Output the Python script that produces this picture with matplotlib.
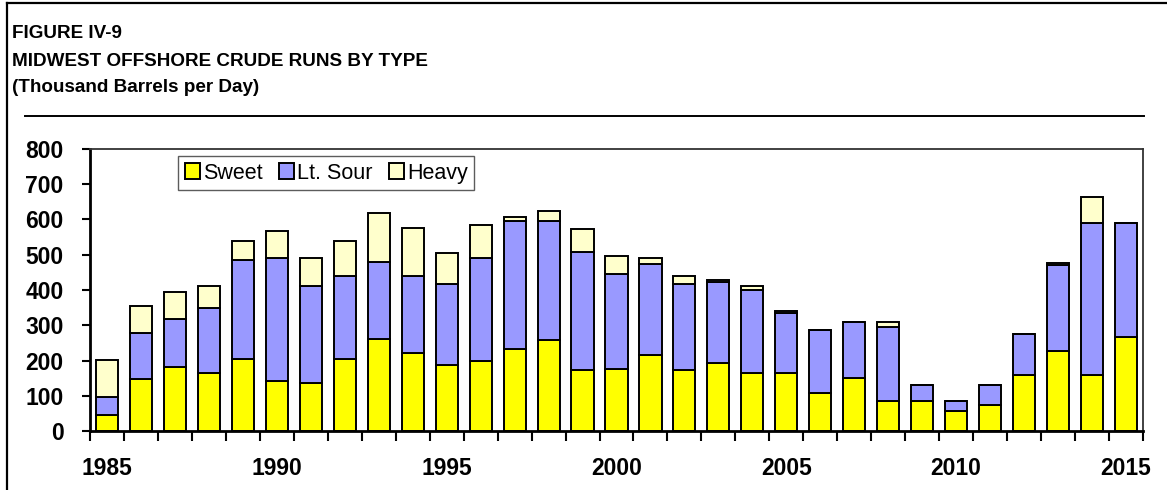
"""
Midwest offshore crude runs by type, stacked bars
"""

import matplotlib

matplotlib.use("Agg")
import matplotlib.pyplot as plt
from matplotlib.lines import Line2D

plt.rcParams["font.family"] = ["Liberation Sans", "DejaVu Sans"]

# data (thousand barrels per day)
years = list(range(1985, 2016))
sweet = [44, 148, 182, 165, 204, 143, 136, 204, 261, 222,
         188, 200, 233, 257, 172, 176, 217, 172, 193, 165,
         165, 108, 149, 84, 84, 57, 73, 160, 228, 160, 267]
lt_sour = [53, 131, 137, 183, 282, 349, 276, 236, 219, 218,
           229, 292, 362, 338, 335, 270, 257, 245, 231, 235,
           171, 178, 159, 212, 47, 29, 58, 115, 242, 429, 324]
heavy = [104, 76, 76, 64, 52, 76, 80, 98, 138, 137,
         87, 91, 12, 29, 65, 51, 18, 23, 5, 12,
         4, 0, 2, 14, 0, 0, 0, 0, 6, 76, 0]
year_labels = ["1985", "1990", "1995", "2000", "2005", "2010", "2015"]

W, H = 1167, 490
fig = plt.figure(figsize=(W / 100, H / 100), dpi=100)
ax = fig.add_axes([90 / W, 1 - 431 / H, (1143 - 90) / W, (431 - 149) / H])

x = list(range(len(years)))
bar_kw = dict(width=0.65, edgecolor="black", linewidth=1.4)
ax.bar(x, sweet, color="#FFFF00", label="Sweet", **bar_kw)
ax.bar(x, lt_sour, bottom=sweet, color="#9999FF", label="Lt. Sour", **bar_kw)
bottom2 = [a + b for a, b in zip(sweet, lt_sour)]
ax.bar(x, heavy, bottom=bottom2, color="#FFFFCC", label="Heavy", **bar_kw)

ax.set_xlim(-0.5, len(years) - 0.5)
ax.set_ylim(0, 800)
ax.set_yticks(range(0, 801, 100))
ax.tick_params(axis="y", direction="out", length=6, width=1.5, pad=13,
               labelsize=16.5)
for lab in ax.get_yticklabels():
    lab.set_fontweight("bold")

# tick marks between categories, labels every five years
ax.set_xticks([i - 0.5 for i in range(len(years) + 1)])
ax.set_xticklabels([])
ax.tick_params(axis="x", which="major", direction="out", length=7, width=1.5)
ax.set_xticks([years.index(int(y)) for y in year_labels], minor=True)
ax.set_xticklabels(year_labels, minor=True, fontsize=16.5, fontweight="bold")
ax.tick_params(axis="x", which="minor", length=0, pad=19)

for side in ["left", "bottom"]:
    ax.spines[side].set_linewidth(2)
for side in ["top", "right"]:
    ax.spines[side].set_linewidth(1.3)
    ax.spines[side].set_color("#333333")

leg = ax.legend(loc="upper left", bbox_to_anchor=(0.084, 0.975), ncol=3,
                frameon=True, fancybox=False, edgecolor="#333333",
                fontsize=15.5, handlelength=0.7, handleheight=0.7,
                handletextpad=0.15, columnspacing=0.75, borderpad=0.3,
                borderaxespad=0)
leg.get_frame().set_linewidth(1.0)

# title block
title_kw = dict(fontsize=13.6, fontweight="bold", va="center")
fig.text(12 / W, 1 - 33 / H, "FIGURE IV-9", **title_kw)
fig.text(12 / W, 1 - 62 / H, "MIDWEST OFFSHORE CRUDE RUNS BY TYPE", **title_kw)
fig.text(12 / W, 1 - 88 / H, "(Thousand Barrels per Day)", **title_kw)

# outer frame and rule below title
fig.add_artist(Line2D([7 / W, 7 / W], [0, 1 - 3 / H], color="black", lw=1.6))
fig.add_artist(Line2D([7 / W, 1], [1 - 3 / H, 1 - 3 / H], color="black", lw=1.6))
fig.add_artist(Line2D([25 / W, 1144 / W], [1 - 116 / H, 1 - 116 / H],
                      color="black", lw=1.4))

plt.savefig("out.png", dpi=100)
plt.close()
